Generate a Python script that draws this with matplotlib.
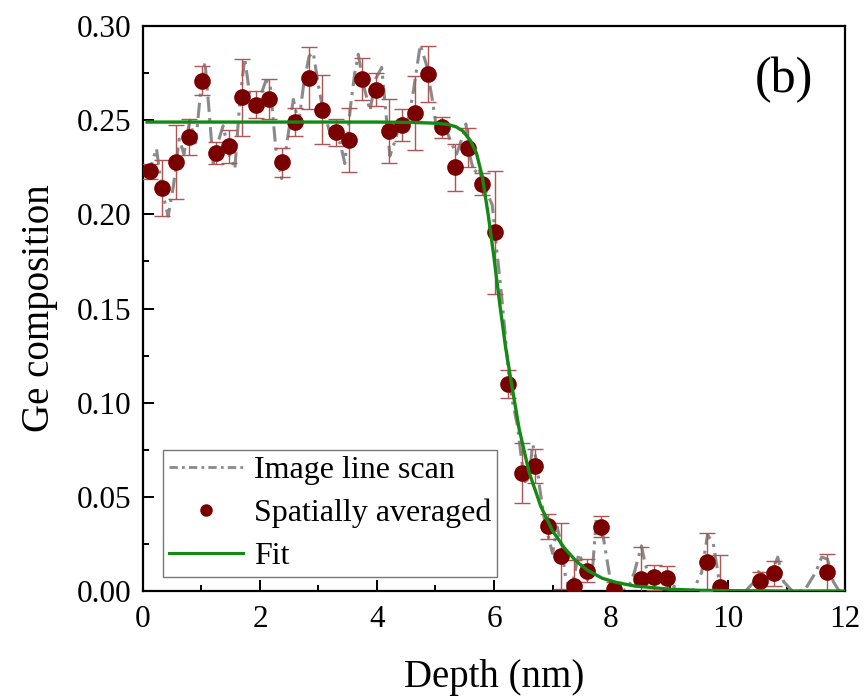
import matplotlib
matplotlib.use("Agg")
import matplotlib.pyplot as plt
from matplotlib.lines import Line2D
from matplotlib.ticker import MultipleLocator

plt.rcParams['font.family'] = ['Liberation Serif', 'DejaVu Serif']
plt.rcParams['mathtext.fontset'] = 'stix'

# ---- Data ----
scan_x = [0.00, 0.12, 0.23, 0.33, 0.43, 0.52, 0.62, 0.70, 0.80, 0.90, 1.00, 1.06, 1.13, 1.20,
          1.28, 1.37, 1.47, 1.57, 1.66, 1.74, 1.83, 1.91, 2.00, 2.10, 2.17, 2.27, 2.37, 2.47,
          2.57, 2.66, 2.75, 2.84, 2.91, 3.00, 3.08, 3.18, 3.28, 3.37, 3.45, 3.55, 3.62, 3.68,
          3.76, 3.88, 3.98, 4.08, 4.15, 4.22, 4.32, 4.42, 4.52, 4.62, 4.74, 4.84, 4.94, 5.02,
          5.10, 5.18, 5.27, 5.36, 5.45, 5.52, 5.58, 5.66, 5.74, 5.82, 5.90, 5.97, 6.05, 6.12,
          6.18, 6.25, 6.32, 6.40, 6.47, 6.53, 6.60, 6.66, 6.72, 6.78, 6.85, 6.92, 7.00, 7.08,
          7.15, 7.22, 7.30, 7.37, 7.45, 7.52, 7.60, 7.68, 7.75, 7.85, 7.95, 8.02, 8.10, 8.20,
          8.30, 8.40, 8.52, 8.58, 8.66, 8.75, 8.85, 8.95, 9.05, 9.20, 9.40, 9.55, 9.65, 9.75,
          9.85, 9.95, 10.10, 10.30, 10.45, 10.55, 10.65, 10.75, 10.85, 10.95, 11.10, 11.30,
          11.50, 11.60, 11.70, 11.80, 11.90, 12.00]
scan_y = [0.226, 0.224, 0.235, 0.212, 0.199, 0.215, 0.240, 0.232, 0.250, 0.238, 0.270, 0.281, 0.255, 0.227,
          0.238, 0.247, 0.232, 0.224, 0.262, 0.283, 0.262, 0.255, 0.262, 0.271, 0.270, 0.235, 0.219, 0.240,
          0.261, 0.248, 0.270, 0.284, 0.286, 0.268, 0.255, 0.245, 0.240, 0.238, 0.227, 0.258, 0.275, 0.285,
          0.270, 0.255, 0.272, 0.278, 0.255, 0.231, 0.240, 0.252, 0.248, 0.265, 0.290, 0.280, 0.262, 0.245,
          0.250, 0.245, 0.238, 0.232, 0.240, 0.248, 0.232, 0.222, 0.225, 0.215, 0.210, 0.205, 0.180, 0.160,
          0.140, 0.115, 0.100, 0.088, 0.070, 0.058, 0.060, 0.078, 0.070, 0.055, 0.040, 0.030, 0.020, 0.034,
          0.025, 0.008, 0.000, 0.008, 0.020, 0.015, 0.006, 0.010, 0.039, 0.032, 0.013, 0.000, 0.000, 0.000,
          0.002, 0.010, 0.024, 0.015, 0.006, 0.010, 0.005, 0.010, 0.003, 0.000, 0.000, 0.010, 0.030, 0.025,
          0.005, 0.000, 0.000, 0.000, 0.005, 0.012, 0.005, 0.010, 0.018, 0.005, 0.000, 0.000,
          0.010, 0.018, 0.017, 0.005, 0.000, 0.000]

avg_x = [0.115, 0.330, 0.559, 0.786, 1.014, 1.243, 1.470, 1.697, 1.926, 2.154, 2.381, 2.598,
         2.838, 3.065, 3.294, 3.521, 3.749, 3.978, 4.205, 4.432, 4.650, 4.877, 5.106, 5.333,
         5.561, 5.790, 6.017, 6.244, 6.474, 6.701, 6.920, 7.145, 7.368, 7.595, 7.824, 8.051,
         8.508, 8.730, 8.957, 9.641, 9.868, 10.552, 10.781, 11.687]
avg_y = [0.2229, 0.2138, 0.2280, 0.2409, 0.2709, 0.2324, 0.2361, 0.2621, 0.2582, 0.2612, 0.2276, 0.2492,
         0.2722, 0.2556, 0.2435, 0.2395, 0.2718, 0.2662, 0.2441, 0.2476, 0.2538, 0.2745, 0.2462, 0.2250,
         0.2353, 0.2162, 0.1905, 0.1101, 0.0627, 0.0664, 0.0345, 0.0186, 0.0027, 0.0108, 0.0341, 0.0009,
         0.0064, 0.0073, 0.0071, 0.0154, 0.0020, 0.0055, 0.0094, 0.0102]
avg_err = [0.0040, 0.0148, 0.0196, 0.0095, 0.0076, 0.0058, 0.0088, 0.0203, 0.0073, 0.0104, 0.0077, 0.0075,
           0.0165, 0.0183, 0.0071, 0.0171, 0.0110, 0.0088, 0.0171, 0.0084, 0.0195, 0.0150, 0.0057, 0.0124,
           0.0104, 0.0060, 0.0327, 0.0074, 0.0160, 0.0092, 0.0066, 0.0177, 0.0138, 0.0062, 0.0055, 0.0040,
           0.0168, 0.0065, 0.0062, 0.0152, 0.0171, 0.0048, 0.0065, 0.0094]

fit_x = [0.07, 1.0, 2.0, 3.0, 4.0, 4.6, 5.0, 5.2, 5.35, 5.47, 5.6, 5.7, 5.8, 5.9, 6.0, 6.1, 6.2,
         6.3, 6.43, 6.6, 6.8, 7.0, 7.2, 7.4, 7.6, 7.85, 8.1, 8.4, 9.0, 9.5, 10.0, 11.0, 12.0]
fit_y = [0.249, 0.249, 0.249, 0.249, 0.249, 0.2488, 0.2484, 0.2478, 0.2465, 0.2442, 0.239, 0.2325,
         0.220, 0.200, 0.177, 0.152, 0.129, 0.110, 0.086, 0.063, 0.045, 0.032, 0.023, 0.016, 0.011,
         0.0068, 0.0045, 0.0027, 0.001, 0.0004, 0.0002, 0.0, 0.0]

xticks = [0, 2, 4, 6, 8, 10, 12]
yticks = [0.00, 0.05, 0.10, 0.15, 0.20, 0.25, 0.30]

# ---- Figure ----
fig = plt.figure(figsize=(8.65, 6.97), dpi=100)
ax = fig.add_axes([0.1653, 0.152, 0.8116, 0.8107])

scan_color = '#8a8a8a'
pt_color = '#7a0000'
err_color = '#b05555'
fit_color = '#138a13'

ax.plot(scan_x, scan_y, color=scan_color, lw=2.2, dashes=(5, 2, 1, 2), zorder=2)
ax.errorbar(avg_x, avg_y, yerr=avg_err, fmt='none', ecolor=err_color, elinewidth=1.0,
            capsize=5.5, capthick=1.0, zorder=3)
ax.plot(avg_x, avg_y, 'o', color=pt_color, markersize=12, markeredgewidth=0, zorder=4)
ax.plot(fit_x, fit_y, color=fit_color, lw=2.4, zorder=5)

ax.set_xlim(0, 12)
ax.set_ylim(0, 0.30)
ax.set_xticks(xticks)
ax.set_yticks(yticks)
ax.set_xticklabels([str(v) for v in xticks])
ax.set_yticklabels([f"{v:.2f}" for v in yticks])
ax.xaxis.set_minor_locator(MultipleLocator(1))
ax.yaxis.set_minor_locator(MultipleLocator(0.025))
ax.tick_params(which='both', direction='in', top=False, right=False, labelsize=22.5, width=1.4)
ax.tick_params(which='major', length=8)
ax.tick_params(which='minor', length=4.5)
ax.tick_params(axis='x', pad=10)
ax.tick_params(axis='y', pad=8)
for sp in ax.spines.values():
    sp.set_linewidth(1.6)

ax.set_xlabel('Depth (nm)', fontsize=28, labelpad=18)
ax.set_ylabel('Ge composition', fontsize=28, labelpad=14)

ax.text(0.955, 0.905, '(b)', transform=ax.transAxes, fontsize=36, ha='right', va='center')

handles = [
    Line2D([], [], color=scan_color, lw=2.0, dashes=(3, 1.5, 1, 1.5)),
    Line2D([], [], ls='none', marker='o', color=pt_color, markersize=9, markeredgewidth=0),
    Line2D([], [], color=fit_color, lw=2.2),
]
labels = ['Image line scan', 'Spatially averaged', 'Fit']
leg = ax.legend(handles, labels, loc='lower left', bbox_to_anchor=(0.028, 0.024),
                fontsize=23, frameon=True, fancybox=False, edgecolor='#555555',
                handlelength=2.3, handletextpad=0.35, borderpad=0.2, labelspacing=0.42,
                borderaxespad=0)
leg.get_frame().set_linewidth(1.0)

fig.savefig('out.png', dpi=100)
